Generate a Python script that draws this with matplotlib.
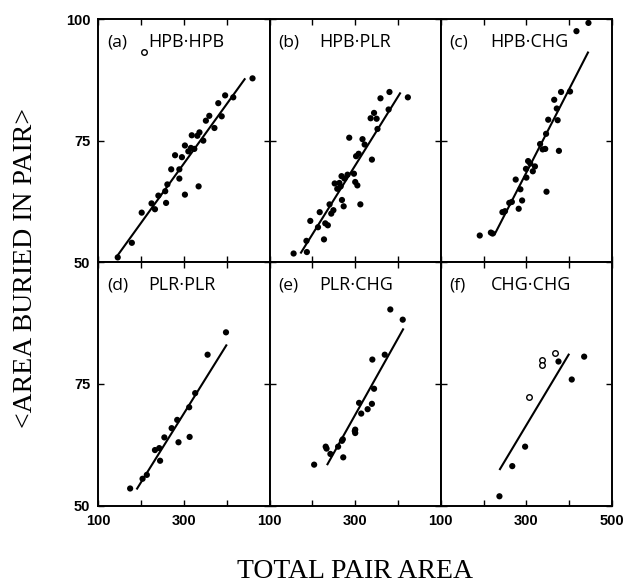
import matplotlib
matplotlib.use("Agg")
import matplotlib.pyplot as plt

# ---------------- data ----------------
panel_letters = ["(a)", "(b)", "(c)", "(d)", "(e)", "(f)"]
panel_names = ["HPB·HPB", "HPB·PLR", "HPB·CHG", "PLR·PLR", "PLR·CHG", "CHG·CHG"]

a_x = [145, 178, 201, 224, 232, 240, 258, 256, 261, 270, 279, 289, 289, 295, 302, 302,
       310, 316, 318, 324, 331, 334, 336, 345, 351, 359, 371, 380, 388, 396, 415, 460]
a_y = [51.0, 54.0, 60.2, 62.1, 60.9, 63.7, 62.2, 64.6, 66.0, 69.1, 72.0, 69.1, 67.2, 71.6, 63.9, 74.0,
       72.8, 73.5, 76.1, 73.3, 76.0, 65.6, 76.7, 75.0, 79.1, 80.1, 77.6, 82.7, 80.0, 84.3, 83.9, 87.8]
a_open_x = [207]
a_open_y = [93.2]
a_line_x = [143, 443]
a_line_y = [51.2, 87.8]

b_x = [156, 187, 186, 195, 213, 217, 227, 230, 236, 240, 244, 249, 252, 258, 263, 266, 268, 269,
       273, 275, 282, 286, 297, 300, 305, 302, 308, 312, 317, 322, 339, 336, 344, 350, 352, 359,
       378, 380, 423]
b_y = [51.8, 52.1, 54.4, 58.5, 57.2, 60.3, 54.7, 58.0, 57.6, 61.9, 60.0, 60.7, 66.2, 65.1, 66.3,
       65.6, 67.7, 62.8, 61.5, 67.2, 68.0, 75.6, 68.2, 66.5, 65.8, 71.8, 72.3, 61.9, 75.3, 74.2,
       71.1, 79.6, 80.7, 79.5, 77.4, 83.7, 81.4, 85.0, 83.9]
b_open_x = []
b_open_y = []
b_line_x = [172, 406]
b_line_y = [51.8, 84.9]

c_x = [191, 217, 221, 244, 250, 260, 266, 282, 290, 275, 286, 300, 299, 304, 309, 315, 320,
       332, 338, 344, 346, 347, 351, 365, 371, 373, 376, 381, 402, 417, 445]
c_y = [55.5, 56.1, 55.9, 60.3, 60.5, 62.2, 62.4, 61.0, 62.7, 67.0, 65.0, 67.4, 69.2, 70.8, 70.3,
       68.7, 69.7, 74.3, 73.2, 73.3, 76.4, 64.5, 79.3, 83.4, 81.6, 79.2, 72.9, 85.0, 85.1, 97.5, 99.2]
c_open_x = []
c_open_y = []
c_line_x = [225, 445]
c_line_y = [55.6, 93.3]

d_x = [174, 203, 213, 232, 242, 244, 254, 271, 284, 287, 312, 313, 326, 355, 398]
d_y = [53.5, 55.5, 56.3, 61.4, 61.8, 59.2, 64.0, 65.9, 67.6, 63.0, 70.2, 64.1, 73.1, 81.0, 85.6]
d_open_x = []
d_open_y = []
d_line_x = [189, 400]
d_line_y = [53.3, 83.1]

e_x = [204, 231, 233, 242, 260, 269, 271, 272, 300, 300, 299, 309, 314, 329, 339, 344, 340,
       369, 382, 411]
e_y = [58.4, 62.1, 61.7, 60.6, 62.1, 63.3, 63.6, 59.9, 65.6, 64.9, 65.3, 71.1, 68.9, 69.8,
       70.9, 74.0, 80.0, 81.0, 90.3, 88.2]
e_open_x = []
e_open_y = []
e_line_x = [234, 413]
e_line_y = [58.3, 86.4]

f_x = [237, 267, 297, 375, 406, 435]
f_y = [51.9, 58.1, 62.1, 79.6, 75.9, 80.6]
f_open_x = [306, 336, 336, 367]
f_open_y = [72.4, 80.0, 78.8, 81.4]
f_line_x = [237, 400]
f_line_y = [57.3, 81.2]

x_ticks = [100, 200, 300, 400, 500]
y_ticks = [50, 75, 100]
x_label = "TOTAL PAIR AREA"
y_label = "<AREA BURIED IN PAIR>"

filled = [(a_x, a_y), (b_x, b_y), (c_x, c_y), (d_x, d_y), (e_x, e_y), (f_x, f_y)]
opens = [(a_open_x, a_open_y), (b_open_x, b_open_y), (c_open_x, c_open_y),
         (d_open_x, d_open_y), (e_open_x, e_open_y), (f_open_x, f_open_y)]
lines = [(a_line_x, a_line_y), (b_line_x, b_line_y), (c_line_x, c_line_y),
         (d_line_x, d_line_y), (e_line_x, e_line_y), (f_line_x, f_line_y)]

# ---------------- figure ----------------
fig, axes = plt.subplots(2, 3, figsize=(6.26, 5.83), dpi=100)
fig.subplots_adjust(left=0.1573, right=0.9776, top=0.9674, bottom=0.1329, wspace=0, hspace=0)

tick_font = dict(family="Liberation Sans", weight="bold", size=10.5)
label_font_family = ["Open Sans", "DejaVu Sans"]

for i, ax in enumerate(axes.flat):
    row, col = divmod(i, 3)
    fx, fy = filled[i]
    ox, oy = opens[i]
    lx, ly = lines[i]
    ax.plot(lx, ly, color="black", lw=1.5, solid_capstyle="butt", zorder=2)
    ax.scatter(fx, fy, s=20, color="black", edgecolors="none", zorder=3, clip_on=False)
    if ox:
        ax.scatter(ox, oy, s=16, facecolors="white", edgecolors="black", linewidths=1.0,
                   zorder=3)
    ax.set_xlim(100, 500)
    ax.set_ylim(50, 100)
    ax.set_xticks(x_ticks)
    ax.set_yticks(y_ticks)
    ax.tick_params(direction="in", length=4, width=1, top=True, right=True, pad=6)
    for sp in ax.spines.values():
        sp.set_linewidth(1.4)
    ax.text(0.05, 0.905, panel_letters[i], transform=ax.transAxes, fontsize=12.5,
            family=label_font_family, va="center", ha="left")
    ax.text(0.29, 0.905, panel_names[i], transform=ax.transAxes, fontsize=13,
            family=label_font_family, va="center", ha="left")

    # tick labels
    if row == 1:
        xl = [str(v) if v in (100, 300) or (v == 500 and col == 2) else "" for v in x_ticks]
        ax.set_xticklabels(xl, fontdict=tick_font)
    else:
        ax.set_xticklabels([])
    if col == 0:
        yl = [str(v) if (row == 0 or v != 100) else "" for v in y_ticks]
        ax.set_yticklabels(yl, fontdict=tick_font)
    else:
        ax.set_yticklabels([])

fig.text(0.567, 0.019, x_label, family="Liberation Serif", fontsize=20,
         ha="center", va="center")
fig.text(0.04, 0.54, y_label, family="Liberation Serif", fontsize=20,
         ha="center", va="center", rotation=90)

fig.savefig("out.png", dpi=100)
